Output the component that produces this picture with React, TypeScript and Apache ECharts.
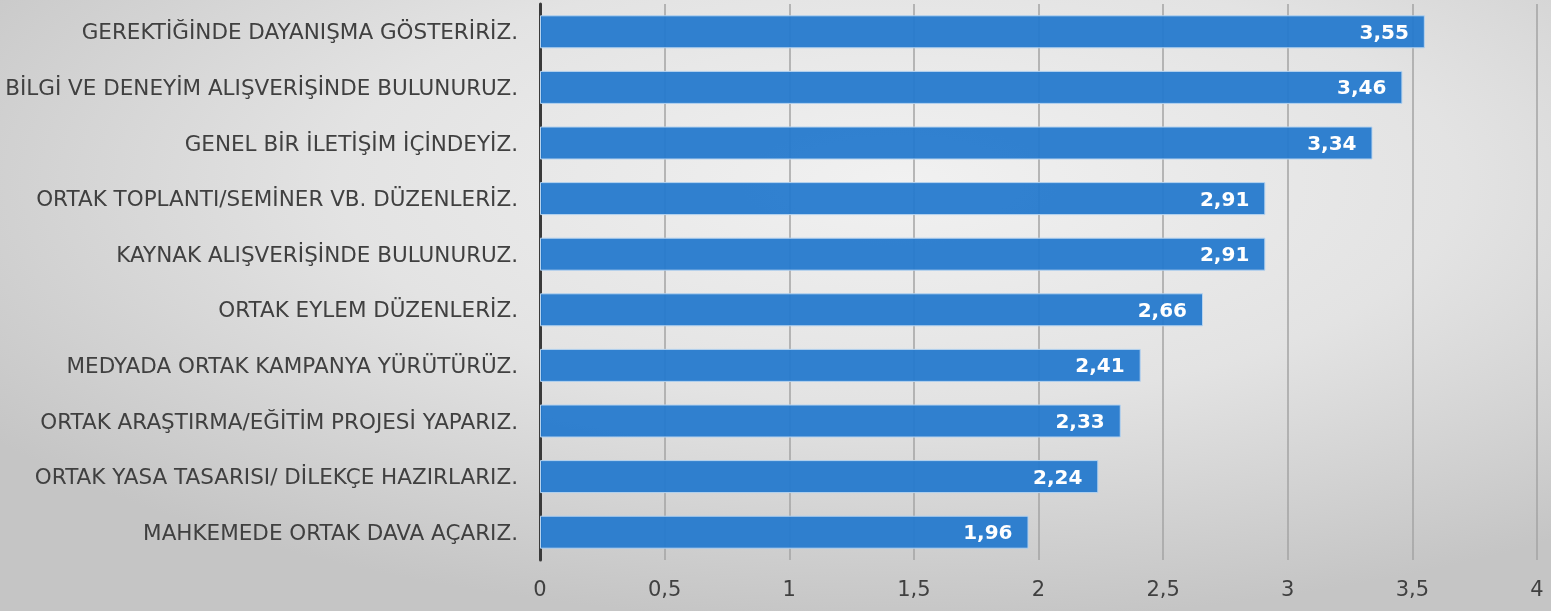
import React, { useEffect, useRef } from "react";
import * as echarts from "echarts";

const categories = [
  "GEREKTİĞİNDE DAYANIŞMA GÖSTERİRİZ.",
  "BİLGİ VE DENEYİM ALIŞVERİŞİNDE BULUNURUZ.",
  "GENEL BİR İLETİŞİM İÇİNDEYİZ.",
  "ORTAK TOPLANTI/SEMİNER VB. DÜZENLERİZ.",
  "KAYNAK ALIŞVERİŞİNDE BULUNURUZ.",
  "ORTAK EYLEM DÜZENLERİZ.",
  "MEDYADA ORTAK KAMPANYA YÜRÜTÜRÜZ.",
  "ORTAK ARAŞTIRMA/EĞİTİM PROJESİ YAPARIZ.",
  "ORTAK YASA TASARISI/ DİLEKÇE HAZIRLARIZ.",
  "MAHKEMEDE ORTAK DAVA AÇARIZ.",
];
const values = [3.55, 3.46, 3.34, 2.91, 2.91, 2.66, 2.41, 2.33, 2.24, 1.96];

const fmt = (v: number) => String(v).replace(".", ",");

export default function App() {
  const ref = useRef<HTMLDivElement>(null);
  useEffect(() => {
    if (!ref.current) return;
    const chart = echarts.init(ref.current, undefined, { renderer: "svg" });
    chart.setOption({
      animation: false,
      backgroundColor: {
        type: "radial",
        x: 0.58,
        y: 0.3,
        r: 0.72,
        colorStops: [
          { offset: 0, color: "#f1f1f1" },
          { offset: 0.5, color: "#e3e3e3" },
          { offset: 1, color: "#c5c5c5" },
        ],
      },
      grid: { left: 540, right: 14, top: 4, bottom: 51, containLabel: false },
      xAxis: {
        type: "value",
        min: 0,
        max: 4,
        interval: 0.5,
        axisLine: { show: false },
        axisTick: { show: false },
        splitLine: { show: true, lineStyle: { color: "#a3a3a3", width: 1.5 } },
        axisLabel: {
          color: "#404040",
          fontSize: 21,
          fontFamily: "DejaVu Sans",
          margin: 18,
          formatter: (v: number) => fmt(v),
        },
      },
      yAxis: {
        type: "category",
        inverse: true,
        data: categories,
        axisLine: { show: true, lineStyle: { color: "#3a3a3a", width: 3 } },
        axisTick: { show: false },
        axisLabel: {
          color: "#404040",
          fontSize: 21.5,
          fontFamily: "DejaVu Sans",
          margin: 22,
        },
      },
      series: [
        {
          type: "bar",
          data: values,
          barWidth: 33,
          itemStyle: {
            color: "rgba(38,122,205,0.95)",
            borderColor: "#b6d3ef",
            borderWidth: 1,
          },
          label: {
            show: true,
            position: "insideRight",
            distance: 16,
            color: "#ffffff",
            fontWeight: "bold",
            fontSize: 20,
            fontFamily: "DejaVu Sans",
            formatter: (p: any) => fmt(p.value),
          },
        },
      ],
    });
    return () => chart.dispose();
  }, []);
  return (
    <div
      ref={ref}
      style={{ position: "fixed", left: 0, top: 0, width: 1551, height: 611 }}
    />
  );
}
